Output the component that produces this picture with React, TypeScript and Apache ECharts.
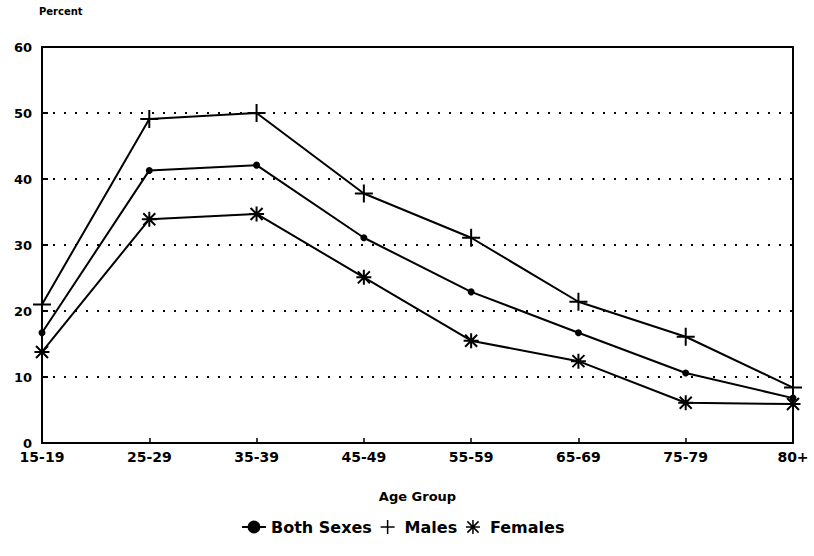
import React, { useEffect, useRef } from "react";
import * as echarts from "echarts";

const categories = ["15-19", "25-29", "35-39", "45-49", "55-59", "65-69", "75-79", "80+"];
const bothSexes = [16.7, 41.3, 42.1, 31.1, 22.9, 16.7, 10.6, 6.8];
const males = [21.0, 49.1, 50.0, 37.8, 31.1, 21.4, 16.1, 8.4];
const females = [13.8, 33.9, 34.7, 25.1, 15.5, 12.4, 6.1, 5.9];

const plusPath = "path://M0,-10V10M-10,0H10";
const starPath = "path://M0,-10V10M-8,-8L8,8M8,-8L-8,8M-10,0H10";
const FONT = "DejaVu Sans";

export default function App() {
  const ref = useRef<HTMLDivElement>(null);
  useEffect(() => {
    if (!ref.current) return;
    const chart = echarts.init(ref.current, undefined, { renderer: "svg" });
    const txt = { color: "#000", fontFamily: FONT, fontWeight: "bold" as const, fontSize: 13 };
    const common = {
      type: "line" as const,
      lineStyle: { color: "#000", width: 2 },
      itemStyle: { color: "#000", borderColor: "#000", borderWidth: 2 },
      showSymbol: true,
    };
    chart.setOption({
      animation: false,
      backgroundColor: "#fff",
      grid: { left: 42, right: 21, top: 47, bottom: 113, show: true, borderColor: "#000", borderWidth: 2 },
      graphic: [
        { type: "text", left: 39, top: 6, style: { text: "Percent", fill: "#000", font: `bold 10px '${FONT}'` } },
      ],
      xAxis: {
        type: "category",
        data: categories,
        boundaryGap: false,
        name: "Age Group",
        nameLocation: "middle",
        nameGap: 47,
        nameTextStyle: { ...txt, fontSize: 13 },
        axisLine: { lineStyle: { color: "#000", width: 2 } },
        axisTick: { inside: true, length: 5, lineStyle: { color: "#000", width: 1.5 } },
        axisLabel: { ...txt, fontSize: 14, margin: 7, interval: 0 },
        splitLine: { show: false },
      },
      yAxis: {
        type: "value",
        min: 0,
        max: 60,
        interval: 10,
        axisLine: { show: true, lineStyle: { color: "#000", width: 2 } },
        axisTick: { show: true, inside: true, length: 6, lineStyle: { color: "#000", width: 2 } },
        axisLabel: { ...txt, fontSize: 13, margin: 10 },
        splitLine: { show: true, lineStyle: { color: "#000", width: 2, type: [2, 9] } },
      },
      legend: {
        bottom: 16,
        left: 236,
        itemGap: 8,
        itemWidth: 24,
        itemHeight: 14,
        textStyle: { ...txt, fontSize: 16 },
        itemStyle: { color: "#000", borderColor: "#000", borderWidth: 1.5 },
        data: [
          { name: "Both Sexes" },
          { name: "Males", icon: plusPath },
          { name: "Females", icon: starPath },
        ],
      },
      series: [
        { ...common, name: "Both Sexes", data: bothSexes, symbol: "circle", symbolSize: 5 },
        { ...common, name: "Males", data: males, symbol: plusPath, symbolSize: 18 },
        { ...common, name: "Females", data: females, symbol: starPath, symbolSize: 15 },
      ],
    });
    return () => chart.dispose();
  }, []);
  return <div ref={ref} style={{ width: 814, height: 556, position: "absolute", left: 0, top: 0 }} />;
}
